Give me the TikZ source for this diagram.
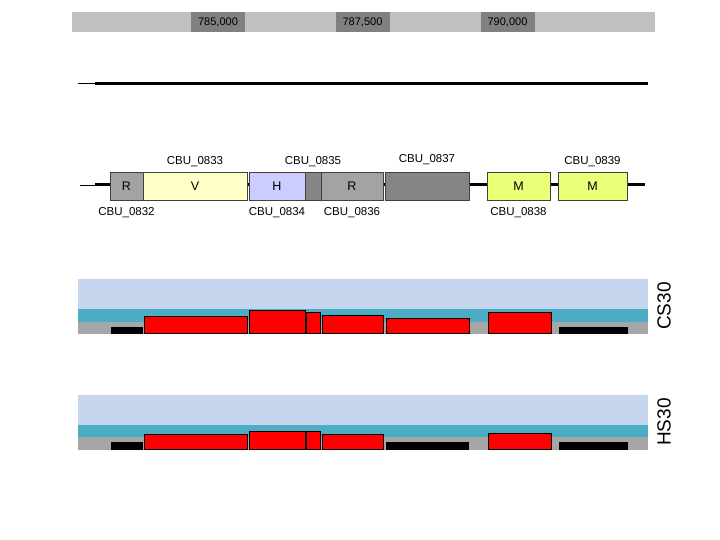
\documentclass[tikz,border=0pt]{standalone}
\usepackage{fontspec}
\setmainfont{Liberation Sans}
\definecolor{scalebar}{HTML}{C0C0C0}
\definecolor{scalemark}{HTML}{808080}
\definecolor{geneR}{HTML}{A3A3A3}
\definecolor{geneV}{HTML}{FFFFC8}
\definecolor{geneH}{HTML}{CCCCFF}
\definecolor{geneX}{HTML}{858585}
\definecolor{geneM}{HTML}{EBFF78}
\definecolor{skyband}{HTML}{C6D6EE}
\definecolor{tealband}{HTML}{4BACC6}
\definecolor{baseband}{HTML}{A6A6A6}
\tikzset{
  gene/.style={draw=black!75, line width=.6pt, minimum height=28pt, inner sep=0pt, font=\fontsize{12.5}{14}\selectfont},
  tag/.style={font=\fontsize{11.5}{13}\selectfont, label distance=1pt},
  low/.style={tag, label distance=3.5pt},
  tickbox/.style={fill=scalemark, minimum width=54pt, minimum height=20pt, inner sep=0pt, font=\fontsize{11}{12}\selectfont},
  hit/.style={draw=black, line width=.6pt, fill=red},
  miss/.style={fill=black},
  lib/.style={rotate=90, font=\fontsize{19}{22}\selectfont}
}
\begin{document}
\begin{tikzpicture}[x=1pt,y=-1pt]
\useasboundingbox (0,0) rectangle (720,540);

\fill [scalebar] (72,12) rectangle (655,32);
\node [tickbox] (t785) at (218,22) {785,000};
\node [tickbox] (t787) at (362.5,22) {787,500};
\node [tickbox] (t790) at (507.5,22) {790,000};

\draw [line width=.8pt] (78,83) -- (95,83);
\draw [line width=3pt] (95,84) -- (648,84);

\draw [line width=.8pt] (80,185) -- (95,185);
\draw [line width=3pt] (95,185) -- (645,185);
\node [gene, fill=geneR, minimum width=33pt, label={[low]below:CBU\_0832}] (g832) at (126.5,186) {R};
\node [gene, fill=geneV, minimum width=104pt, label={[tag]above:CBU\_0833}] (g833) at (195,186) {V};
\node [gene, fill=geneH, minimum width=56pt, label={[low]below:CBU\_0834}] (g834) at (277,186) {H};
\node [gene, fill=geneX, minimum width=16pt, label={[tag]above:CBU\_0835}] (g835) at (313,186) {};
\node [gene, fill=geneR, minimum width=62pt, label={[low]below:CBU\_0836}] (g836) at (352,186) {R};
\node [gene, fill=geneX, minimum width=84pt, label={[tag,label distance=3pt]above:CBU\_0837}] (g837) at (427,186) {};
\node [gene, fill=geneM, minimum width=63pt, label={[low]below:CBU\_0838}] (g838) at (518.5,186) {M};
\node [gene, fill=geneM, minimum width=69pt, label={[tag]above:CBU\_0839}] (g839) at (592.5,186) {M};

\fill [skyband] (78,279) rectangle (648,309);
\fill [tealband] (78,309) rectangle (648,322);
\fill [baseband] (78,322) rectangle (648,334);
\fill [miss] (111,327) rectangle (143,334);
\draw [hit] (144,316) rectangle (247,333);
\draw [hit] (249,310) rectangle (305,333);
\draw [hit] (306,312) rectangle (320,333);
\draw [hit] (322,315) rectangle (383,333);
\draw [hit] (386,318) rectangle (469,333);
\draw [hit] (488,312) rectangle (551,333);
\fill [miss] (559,327) rectangle (628,334);
\node [lib] (cs30) at (664,306) {CS30};

\fill [skyband] (78,395) rectangle (648,425);
\fill [tealband] (78,425) rectangle (648,437);
\fill [baseband] (78,437) rectangle (648,450);
\fill [miss] (111,442) rectangle (143,450);
\draw [hit] (144,434) rectangle (247,449);
\draw [hit] (249,431) rectangle (305,449);
\draw [hit] (306,431) rectangle (320,449);
\draw [hit] (322,434) rectangle (383,449);
\fill [miss] (386,442) rectangle (469,450);
\draw [hit] (488,433) rectangle (551,449);
\fill [miss] (559,442) rectangle (628,450);
\node [lib] (hs30) at (664,422) {HS30};
\end{tikzpicture}
\end{document}
